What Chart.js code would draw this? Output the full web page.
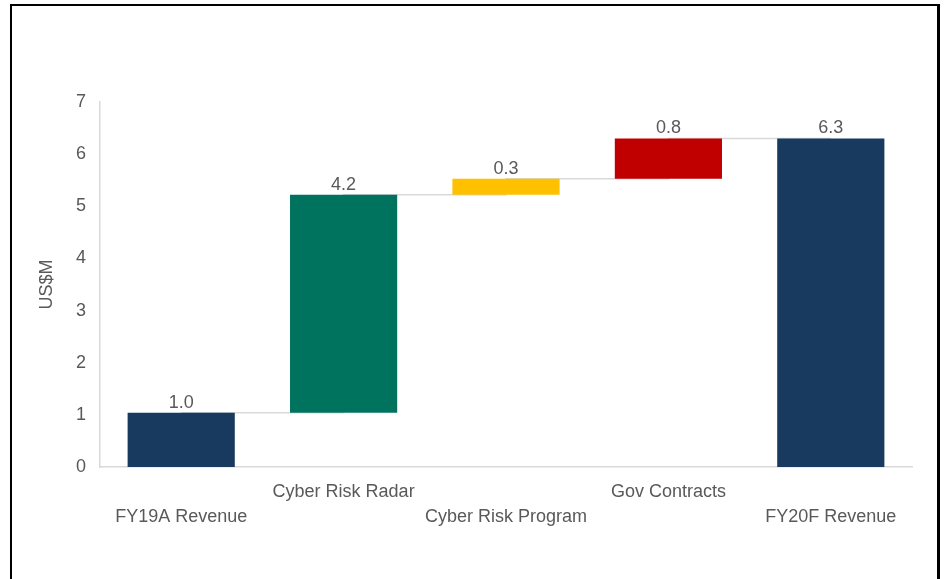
<!DOCTYPE html>
<html>
<head>
<meta charset="utf-8">
<script src="https://cdn.jsdelivr.net/npm/chart.js@4"></script>
<style>
	html, body { margin: 0; padding: 0; background: #fff; overflow: hidden; }
	#wrap { position: relative; width: 944px; height: 579px; }
	#frame {
		position: absolute; left: 10px; top: 4px; width: 925px; height: 600px;
		border-top: 2px solid #000; border-left: 2px solid #000; border-right: 3px solid #000;
		pointer-events: none;
	}
	canvas { position: absolute; left: 0; top: 0; }
</style>
</head>
<body>
<div id="wrap">
	<canvas id="chart" width="944" height="579"></canvas>
	<div id="frame"></div>
</div>
<script>
// categories, with the label row each one sits on (0 = upper, 1 = lower)
const categories = ["FY19A Revenue", "Cyber Risk Radar", "Cyber Risk Program", "Gov Contracts", "FY20F Revenue"];
const labelRow = [1, 0, 1, 0, 1];

// US$M
const startValue = 1.04;
const changes = [4.18, 0.31, 0.77];
const endValue = 6.3;

const yTicks = [0, 1, 2, 3, 4, 5, 6, 7];

const barColors = ["#173A5E", "#00735F", "#FFC000", "#C00000", "#173A5E"];

// floating ranges for the waterfall
const ranges = [[0, startValue]];
const levels = [startValue];
let running = startValue;
changes.forEach((c) => {
	ranges.push([running, running + c]);
	running += c;
	levels.push(running);
});
ranges.push([0, endValue]);
levels.push(endValue);

const shownValues = [startValue, ...changes, endValue];

const textColor = "#595959";
const fontFamily = "'Liberation Sans', Arial, sans-serif";

const valueLabels = {
	id: "valueLabels",
	afterDatasetsDraw(chart) {
		const ctx = chart.ctx;
		const meta = chart.getDatasetMeta(0);
		ctx.save();
		ctx.fillStyle = textColor;
		ctx.font = "18px " + fontFamily;
		ctx.textAlign = "center";
		ctx.textBaseline = "bottom";
		meta.data.forEach((bar, i) => {
			const top = Math.min(bar.y, bar.base);
			ctx.fillText(shownValues[i].toFixed(1), bar.x, top - 1);
		});
		ctx.restore();
	}
};

new Chart(document.getElementById("chart"), {
	data: {
		labels: categories.map((c, i) => (labelRow[i] == 0 ? [c, ""] : ["", c])),
		datasets: [
			{
				type: "bar",
				data: ranges,
				backgroundColor: barColors,
				borderWidth: 0,
				categoryPercentage: 1,
				barPercentage: 0.66,
				order: 1
			},
			{
				type: "line",
				data: levels,
				stepped: true,
				borderColor: "#D9D9D9",
				borderWidth: 1.5,
				pointRadius: 0,
				fill: false,
				order: 2
			}
		]
	},
	options: {
		responsive: false,
		animation: false,
		layout: {
			padding: { left: 30, right: 32, top: 102, bottom: 0 }
		},
		plugins: {
			legend: { display: false },
			tooltip: { enabled: false }
		},
		scales: {
			x: {
				offset: true,
				grid: { display: false },
				border: { color: "#D9D9D9", width: 1.5 },
				ticks: {
					color: textColor,
					font: { family: fontFamily, size: 18, lineHeight: 1.39 },
					maxRotation: 0,
					autoSkip: false,
					padding: 5
				},
				afterFit: (scale) => {
					scale.height = 112;
				}
			},
			y: {
				min: 0,
				max: 7,
				grid: { display: false },
				border: { color: "#D9D9D9", width: 1.5 },
				afterBuildTicks: (scale) => {
					scale.ticks = yTicks.map((v) => ({ value: v }));
				},
				ticks: {
					color: textColor,
					font: { family: fontFamily, size: 18 },
					padding: 6
				},
				title: {
					display: true,
					text: "US$M",
					color: textColor,
					font: { family: fontFamily, size: 18 },
					padding: { top: 6, bottom: 0 }
				},
				afterFit: (scale) => {
					scale.width = 70;
				}
			}
		}
	},
	plugins: [valueLabels]
});
</script>
</body>
</html>
